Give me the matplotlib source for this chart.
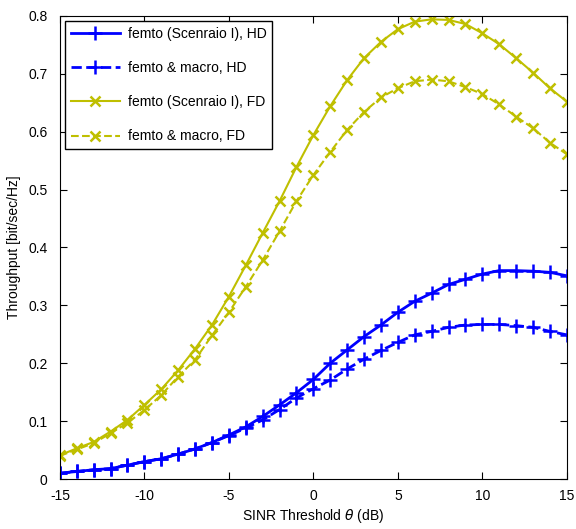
import matplotlib
matplotlib.use("Agg")
import matplotlib.pyplot as plt
import numpy as np

plt.rcParams['font.family'] = ['Liberation Sans', 'DejaVu Sans']
plt.rcParams['axes.unicode_minus'] = False

# SINR threshold (dB)
theta = np.arange(-15, 16)

# HD curves
hd_femto = [0.010, 0.013, 0.016, 0.018, 0.024, 0.030, 0.035, 0.043, 0.052, 0.063,
            0.076, 0.090, 0.108, 0.128, 0.149, 0.172, 0.200, 0.223, 0.246, 0.266,
            0.288, 0.307, 0.321, 0.336, 0.345, 0.354, 0.360, 0.360, 0.359, 0.357, 0.351]
hd_macro = [0.010, 0.013, 0.016, 0.018, 0.024, 0.030, 0.035, 0.043, 0.052, 0.063,
            0.075, 0.088, 0.102, 0.120, 0.140, 0.156, 0.171, 0.190, 0.207, 0.222,
            0.236, 0.249, 0.255, 0.262, 0.266, 0.267, 0.267, 0.265, 0.262, 0.255, 0.249]

# FD curves
fd_femto = [0.041, 0.053, 0.064, 0.082, 0.102, 0.128, 0.155, 0.188, 0.225, 0.266,
            0.315, 0.369, 0.425, 0.480, 0.539, 0.594, 0.644, 0.689, 0.727, 0.755,
            0.777, 0.790, 0.794, 0.793, 0.786, 0.770, 0.751, 0.727, 0.702, 0.675, 0.652]
fd_macro = [0.040, 0.051, 0.062, 0.079, 0.097, 0.119, 0.145, 0.177, 0.206, 0.248,
            0.288, 0.332, 0.378, 0.428, 0.480, 0.525, 0.565, 0.603, 0.634, 0.659,
            0.675, 0.687, 0.690, 0.687, 0.677, 0.665, 0.647, 0.626, 0.606, 0.581, 0.561]

fig = plt.figure(figsize=(5.76, 5.29), dpi=100)
ax = fig.add_axes([0.104, 0.0945, 0.880, 0.8755])

ax.plot(theta, hd_femto, '-+', color='#0000ff', lw=2, ms=10, mew=1.8,
        label='femto (Scenraio I), HD')
ax.plot(theta, hd_macro, '--+', color='#0000ff', lw=2, ms=10, mew=1.8,
        label='femto & macro, HD')
ax.plot(theta, fd_femto, '-x', color='#bfbf00', lw=1.5, ms=7, mew=1.8,
        label='femto (Scenraio I), FD')
ax.plot(theta, fd_macro, '--x', color='#bfbf00', lw=1.5, ms=7, mew=1.8,
        label='femto & macro, FD')

ax.set_xlim(-15, 15)
ax.set_ylim(0, 0.8)
ax.set_xticks(np.arange(-15, 16, 5))
ax.set_yticks(np.arange(0, 0.81, 0.1))
ax.set_yticklabels(['0', '0.1', '0.2', '0.3', '0.4', '0.5', '0.6', '0.7', '0.8'])
ax.tick_params(direction='in', top=True, right=True, labelsize=10, length=5)
ax.tick_params(axis='x', pad=7)
ax.tick_params(axis='y', pad=9)

ax.set_xlabel(r'SINR Threshold $\theta$ (dB)', fontsize=10, labelpad=3)
ax.set_ylabel('Throughput [bit/sec/Hz]', fontsize=10, labelpad=5)

leg = ax.legend(loc='upper left', fontsize=10, handlelength=3.5,
                fancybox=False, framealpha=1, edgecolor='black',
                borderaxespad=0.4, labelspacing=1.45, handletextpad=0.6)
leg.get_frame().set_linewidth(1.0)

fig.savefig('out.png', dpi=100)
